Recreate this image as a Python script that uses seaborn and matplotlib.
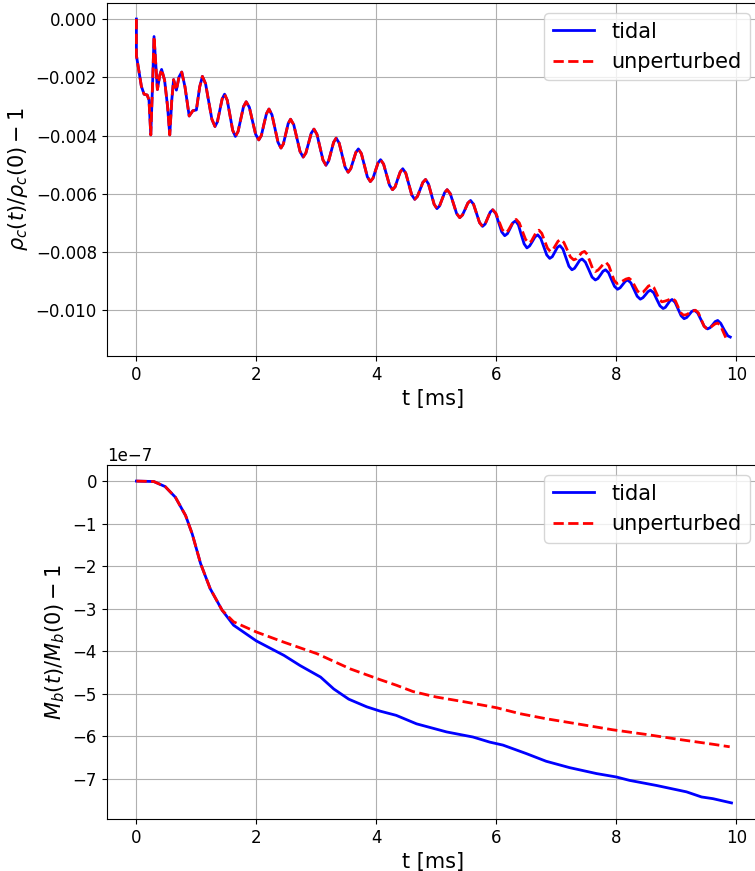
import numpy as np
import pandas as pd
import matplotlib
matplotlib.use("Agg")
import matplotlib.pyplot as plt
import seaborn as sns

# ---------------- data: central density (shared part, t <= 5.94 ms) ----------------
t_rho_common = [0.0, 0.0, 0.044, 0.083, 0.128, 0.18, 0.21, 0.24, 0.27, 0.294, 0.32, 0.35, 0.39, 0.42,
                0.47, 0.52, 0.556, 0.59, 0.62, 0.667, 0.71, 0.756, 0.81, 0.88, 0.94, 1.0, 1.055, 1.1,
                1.153, 1.205, 1.258, 1.31, 1.35, 1.39, 1.43, 1.47, 1.515, 1.56, 1.605, 1.65,
                1.695, 1.74, 1.785, 1.83, 1.883, 1.935, 1.988, 2.04, 2.083, 2.125, 2.168, 2.21,
                2.26, 2.31, 2.36, 2.41, 2.45, 2.49, 2.53, 2.57, 2.623, 2.675, 2.728, 2.78,
                2.825, 2.87, 2.915, 2.96, 3.01, 3.06, 3.11, 3.16, 3.203, 3.245, 3.288, 3.33,
                3.38, 3.43, 3.48, 3.53, 3.573, 3.615, 3.658, 3.70, 3.75, 3.80, 3.85, 3.90,
                3.943, 3.985, 4.028, 4.07, 4.12, 4.17, 4.22, 4.27, 4.313, 4.355, 4.398, 4.44,
                4.49, 4.54, 4.59, 4.64, 4.685, 4.73, 4.775, 4.82, 4.868, 4.915, 4.963, 5.01,
                5.053, 5.095, 5.138, 5.18, 5.233, 5.285, 5.338, 5.39, 5.435, 5.48, 5.525, 5.57,
                5.62, 5.67, 5.72, 5.77, 5.813, 5.855, 5.898, 5.94]
rho_common = [0.0, -0.00125, -0.00182, -0.00231, -0.00258, -0.00261, -0.00278, -0.00398, -0.00222,
              -0.0006, -0.00142, -0.00242, -0.00193, -0.00173, -0.0021, -0.00301, -0.00398, -0.00278,
              -0.00208, -0.00244, -0.00199, -0.00182, -0.00233, -0.00333, -0.00315, -0.00312, -0.00233,
              -0.00197,
              -0.00222, -0.00283, -0.00344, -0.00369, -0.00353, -0.00314, -0.00274, -0.00258,
              -0.00279, -0.00331, -0.00382, -0.00403, -0.00386, -0.00344, -0.00301, -0.00284,
              -0.00303, -0.0035, -0.00396, -0.00415, -0.0040, -0.00362, -0.00325, -0.00309,
              -0.00329, -0.00376, -0.00423, -0.00443, -0.00429, -0.00394, -0.00359, -0.00344,
              -0.00363, -0.00409, -0.00455, -0.00474, -0.0046, -0.00426, -0.00392, -0.00378,
              -0.00396, -0.0044, -0.00484, -0.00502, -0.00488, -0.00456, -0.00423, -0.00409,
              -0.00426, -0.00468, -0.00509, -0.00526, -0.00514, -0.00486, -0.00458, -0.00446,
              -0.00462, -0.00502, -0.00542, -0.00558, -0.00547, -0.00521, -0.00494, -0.00483,
              -0.00498, -0.00535, -0.00571, -0.00586, -0.00576, -0.0055, -0.00525, -0.00514,
              -0.00529, -0.00567, -0.00604, -0.00619, -0.00609, -0.00585, -0.00561, -0.00551,
              -0.00566, -0.00601, -0.00636, -0.00651, -0.00642, -0.00619, -0.00596, -0.00586,
              -0.0060, -0.00634, -0.00668, -0.00682, -0.00673, -0.00653, -0.00632, -0.00623,
              -0.00636, -0.00668, -0.00699, -0.00712, -0.00704, -0.00684, -0.00663, -0.00655]

t_rho_tidal_late = [5.99, 6.04, 6.09, 6.14, 6.185, 6.23, 6.275, 6.32, 6.368, 6.415, 6.463, 6.51,
                    6.555, 6.60, 6.645, 6.69, 6.74, 6.79, 6.84, 6.89, 6.933, 6.975, 7.018, 7.06,
                    7.11, 7.16, 7.21, 7.26, 7.303, 7.345, 7.388, 7.43, 7.485, 7.54, 7.595, 7.65,
                    7.693, 7.735, 7.778, 7.82, 7.87, 7.92, 7.97, 8.02, 8.063, 8.105, 8.148, 8.19,
                    8.243, 8.295, 8.348, 8.40, 8.443, 8.485, 8.528, 8.57, 8.623, 8.675, 8.728, 8.78,
                    8.818, 8.855, 8.893, 8.93, 8.98, 9.03, 9.08, 9.13, 9.173, 9.215, 9.258, 9.30,
                    9.355, 9.41, 9.465, 9.52, 9.563, 9.605, 9.648, 9.69, 9.74, 9.80, 9.86, 9.90]
rho_tidal_late = [-0.00668, -0.0070, -0.00731, -0.00744, -0.00737, -0.00719, -0.0070, -0.00693,
                  -0.00707, -0.0074, -0.00772, -0.00786, -0.00779, -0.00764, -0.00748, -0.00741,
                  -0.00753, -0.00782, -0.0081, -0.00822, -0.00816, -0.0080, -0.00784, -0.00778,
                  -0.0079, -0.0082, -0.00849, -0.00861, -0.00856, -0.00843, -0.00829, -0.00824,
                  -0.00835, -0.0086, -0.00886, -0.00896, -0.00891, -0.00879, -0.00866, -0.00861,
                  -0.00871, -0.00895, -0.00918, -0.00928, -0.00923, -0.00912, -0.00901, -0.00896,
                  -0.00906, -0.00929, -0.00952, -0.00962, -0.00957, -0.00947, -0.00936, -0.00931,
                  -0.0094, -0.00963, -0.00985, -0.00994, -0.0099, -0.00979, -0.00968, -0.00963,
                  -0.00973, -0.00996, -0.01019, -0.01029, -0.01025, -0.01015, -0.01004, -0.0100,
                  -0.01009, -0.01032, -0.01055, -0.01064, -0.0106, -0.0105, -0.01039, -0.01035,
                  -0.01045, -0.01068, -0.01088, -0.01092]

t_rho_unpert_late = [5.993, 6.045, 6.098, 6.15, 6.195, 6.24, 6.285, 6.33, 6.383, 6.435, 6.488, 6.54,
                     6.583, 6.625, 6.668, 6.71, 6.758, 6.805, 6.853, 6.90, 6.943, 6.985, 7.028, 7.07,
                     7.125, 7.18, 7.235, 7.29, 7.335, 7.38, 7.425, 7.47, 7.515, 7.56, 7.605, 7.65,
                     7.695, 7.74, 7.785, 7.83, 7.875, 7.92, 7.965, 8.01, 8.06, 8.11, 8.16, 8.21,
                     8.258, 8.305, 8.353, 8.40, 8.445, 8.49, 8.535, 8.58, 8.625, 8.67, 8.715, 8.76,
                     8.805, 8.85, 8.895, 8.94, 8.985, 9.03, 9.075, 9.12, 9.17, 9.22, 9.27, 9.32,
                     9.368, 9.415, 9.463, 9.51, 9.555, 9.60, 9.645, 9.69, 9.735, 9.78, 9.825, 9.87]
rho_unpert_late = [-0.00667, -0.00695, -0.00723, -0.00734, -0.00727, -0.00711, -0.00695, -0.00688,
                   -0.0070, -0.00729, -0.00757, -0.00769, -0.00763, -0.00747, -0.00731, -0.00725,
                   -0.00736, -0.00762, -0.00787, -0.00798, -0.00792, -0.00778, -0.00763, -0.00757,
                   -0.00767, -0.00792, -0.00817, -0.00827, -0.00823, -0.00813, -0.00802, -0.00798,
                   -0.00808, -0.00833, -0.00857, -0.00867, -0.00862, -0.00852, -0.00841, -0.00836,
                   -0.00847, -0.00872, -0.00898, -0.00908, -0.00905, -0.00899, -0.00893, -0.0089,
                   -0.00898, -0.00916, -0.00934, -0.00942, -0.00938, -0.00928, -0.00917, -0.00913,
                   -0.00922, -0.00942, -0.00963, -0.00971, -0.00969, -0.00966, -0.00962, -0.0096,
                   -0.00968, -0.00989, -0.01009, -0.01017, -0.01015, -0.01009, -0.01003, -0.0100,
                   -0.01009, -0.01032, -0.01055, -0.01064, -0.01061, -0.01054, -0.01047, -0.01044,
                   -0.01052, -0.01073, -0.01094, -0.01102]

# ---------------- data: baryon mass (units of 1e-7) ----------------
t_mb_common = [0.0, 0.29, 0.48, 0.65, 0.82, 0.93, 1.07, 1.23, 1.43]
mb_common = [0.0, -0.01, -0.13, -0.38, -0.81, -1.24, -1.94, -2.53, -3.04]

t_mb_tidal_late = [1.62, 2.0, 2.46, 2.73, 3.07, 3.29, 3.54, 3.84, 4.06, 4.33, 4.67, 5.17, 5.61, 5.89,
                   6.11, 6.5, 6.83, 7.22, 7.67, 8.0, 8.22, 8.67, 9.17, 9.42, 9.61, 9.92]
mb_tidal_late = [-3.39, -3.76, -4.1, -4.34, -4.61, -4.89, -5.13, -5.31, -5.41, -5.51, -5.71, -5.90,
                 -6.02, -6.14, -6.21, -6.41, -6.59, -6.74, -6.88, -6.96, -7.04, -7.16, -7.31, -7.43,
                 -7.47, -7.57]

t_mb_unpert_late = [1.62, 2.0, 2.46, 3.01, 3.57, 4.06, 4.33, 4.61, 5.0, 5.5, 6.0, 6.39, 6.83, 7.39,
                    7.94, 8.5, 9.06, 9.61, 9.89]
mb_unpert_late = [-3.31, -3.55, -3.79, -4.06, -4.42, -4.67, -4.80, -4.95, -5.08, -5.2, -5.33, -5.47,
                  -5.59, -5.72, -5.85, -5.96, -6.08, -6.19, -6.25]

labels = ["tidal", "unperturbed"]
xlabel = "t [ms]"
ylabel_top = r"$\rho_c(t)/\rho_c(0) - 1$"
ylabel_bot = r"$M_b(t)/M_b(0) - 1$"

# ---------------- assemble ----------------
rho_t = np.array(t_rho_common + t_rho_tidal_late)
rho_tv = np.array(rho_common + rho_tidal_late)
rho_u = np.array(t_rho_common + t_rho_unpert_late)
rho_uv = np.array(rho_common + rho_unpert_late)

mb_t = np.array(t_mb_common + t_mb_tidal_late)
mb_tv = np.array(mb_common + mb_tidal_late) * 1e-7
mb_u = np.array(t_mb_common + t_mb_unpert_late)
mb_uv = np.array(mb_common + mb_unpert_late) * 1e-7

plt.rcParams.update(plt.rcParamsDefault)
plt.rcParams["font.family"] = ["DejaVu Sans"]

fig = plt.figure(figsize=(7.55, 8.71), dpi=100)
W, H = 755, 871
left = 106.7 / W
width = (760 - 106.7) / W
ax1 = fig.add_axes([left, 1 - 356 / H, width, (356 - 3) / H])
ax2 = fig.add_axes([left, 1 - 819 / H, width, (819 - 465) / H])

def draw(ax, t1, v1, t2, v2, ylabel):
    sns.lineplot(x=t1, y=v1, ax=ax, color="blue", lw=2, label=labels[0],
                 sort=False, estimator=None)
    sns.lineplot(x=t2, y=v2, ax=ax, color="red", lw=2, linestyle="--", label=labels[1],
                 sort=False, estimator=None)
    for ln in ax.get_lines():
        ln.set_solid_joinstyle("round")
        ln.set_dash_joinstyle("round")
    ax.grid(True)
    ax.set_xlabel(xlabel, fontsize=15)
    ax.set_ylabel(ylabel, fontsize=15)
    ax.tick_params(labelsize=12)
    ax.yaxis.get_offset_text().set_fontsize(12)
    ax.legend(loc="upper right", fontsize=15)
    ax.set_xticks([0, 2, 4, 6, 8, 10])

draw(ax1, rho_t, rho_tv, rho_u, rho_uv, ylabel_top)
draw(ax2, mb_t, mb_tv, mb_u, mb_uv, ylabel_bot)
ax1.set_xlim(-0.495, 10.395)
ax2.set_xlim(-0.495, 10.395)

fig.savefig("out.png", dpi=100)
